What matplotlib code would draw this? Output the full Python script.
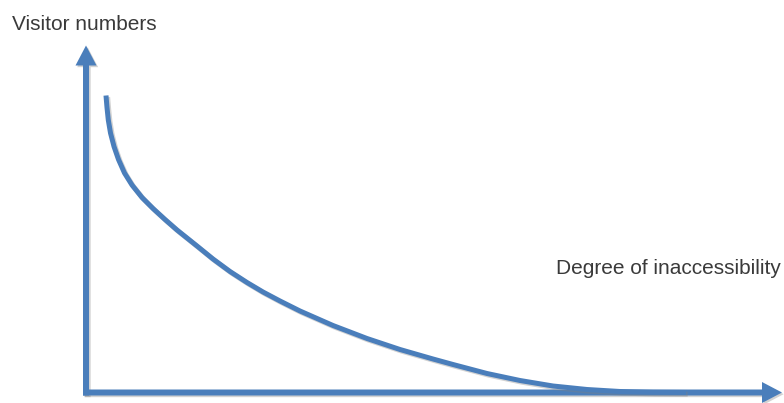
import matplotlib

matplotlib.use("Agg")
import matplotlib.pyplot as plt
import matplotlib.patheffects as pe

# curve (x = inaccessibility, y = visitor numbers, arbitrary units)
inaccessibility = [20, 21, 22.3, 24.5, 28, 32.5, 38.5, 46, 56, 67, 79, 91, 111, 127, 144, 161,
                   177, 194, 214, 247, 281, 314, 347, 367, 401, 434, 467, 501, 534, 567, 600]
visitors = [297, 285, 272.5, 259.5, 246, 233, 219.5, 207.5, 195, 184, 173, 162.5, 146.5, 133.5,
            121, 110, 100.5, 91.5, 81.5, 67, 54, 43, 33.5, 28, 19, 12, 6.5, 3, 1, 0.2, 0]

y_label = "Visitor numbers"
x_label = "Degree of inaccessibility"
x_axis_end = 696
y_axis_end = 347

blue = "#4a7ebb"
shadow_line = [pe.SimpleLineShadow(offset=(1.2, -1.2), shadow_color="gray", alpha=0.35), pe.Normal()]
shadow_patch = [pe.SimplePatchShadow(offset=(1.2, -1.2), shadow_rgbFace="gray", alpha=0.35), pe.Normal()]

fig = plt.figure(figsize=(7.84, 4.03), dpi=100)
ax = fig.add_axes([0, 0, 1, 1])
ax.set_xlim(-86, 784 - 86)
ax.set_ylim(-10.5, 392.5)
ax.axis("off")

# axes drawn as arrows
ax.arrow(0, -3, 0, y_axis_end + 3, width=6, head_width=21, head_length=20,
         length_includes_head=True, color=blue, lw=0, path_effects=shadow_patch, zorder=2)
ax.arrow(-3, 0, x_axis_end + 3, 0, width=6, head_width=21, head_length=20,
         length_includes_head=True, color=blue, lw=0, path_effects=shadow_patch, zorder=2)

ax.plot(inaccessibility, visitors, color=blue, lw=3.6, solid_capstyle="butt",
        solid_joinstyle="round", path_effects=shadow_line, zorder=3)

ax.text(-74, 363, y_label, fontsize=15, family="Liberation Sans", color="#3a3a3a", va="baseline")
ax.text(470, 119, x_label, fontsize=15, family="Liberation Sans", color="#3a3a3a", va="baseline")

fig.savefig("out.png", dpi=100)
